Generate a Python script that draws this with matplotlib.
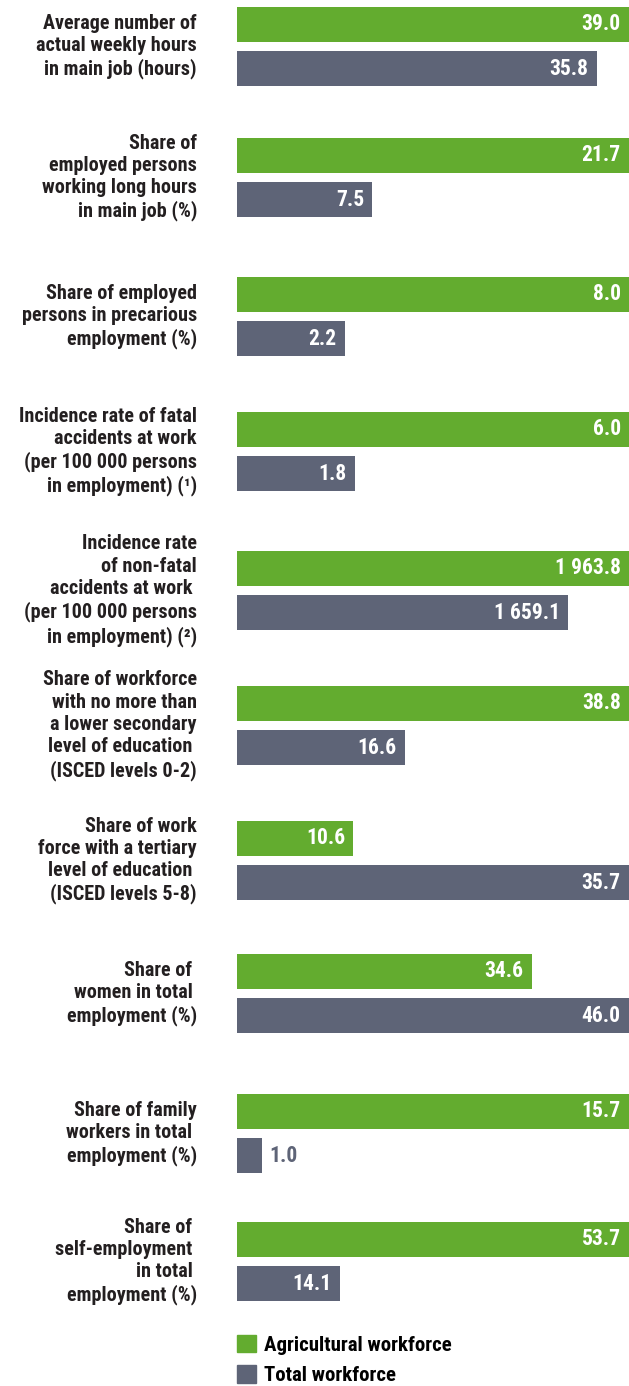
import matplotlib
matplotlib.use("Agg")
import matplotlib.pyplot as plt
from matplotlib import font_manager

# indicators, agricultural workforce vs total workforce
labels = [
    "Average number of\nactual weekly hours\nin main job (hours)",
    "Share of\nemployed persons\nworking long hours\nin main job (%)",
    "Share of employed\npersons in precarious\nemployment (%)",
    "Incidence rate of fatal\naccidents at work\n(per 100 000 persons\nin employment) (\u00b9)",
    "Incidence rate\nof non-fatal\naccidents at work \n(per 100 000 persons\nin employment) (\u00b2)",
    "Share of workforce\nwith no more than\na lower secondary\nlevel of education \n(ISCED levels 0-2)",
    "Share of work\nforce with a tertiary\nlevel of education \n(ISCED levels 5-8)",
    "Share of \nwomen in total \nemployment (%)",
    "Share of family\nworkers in total \nemployment (%)",
    "Share of \nself-employment \nin total \nemployment (%)",
]
agri = [39.0, 21.7, 8.0, 6.0, 1963.8, 38.8, 10.6, 34.6, 15.7, 53.7]
total = [35.8, 7.5, 2.2, 1.8, 1659.1, 16.6, 35.7, 46.0, 1.0, 14.1]
series_names = ["Agricultural workforce", "Total workforce"]

GREEN = "#63ac2f"
GREY = "#5e6477"
TEXT = "#231f20"

# pick a condensed bold face if one is around
available = {f.name for f in font_manager.fontManager.ttflist}
family = "DejaVu Sans"
for cand in ["Liberation Sans Narrow", "Roboto Condensed", "Open Sans Condensed", "DejaVu Sans"]:
    if cand in available:
        family = cand
        break
plt.rcParams["font.family"] = [family, "DejaVu Sans"]
plt.rcParams["font.weight"] = "bold"


def fmt(v):
    # thousands separated by a space
    return f"{v:,.1f}".replace(",", " ")


W, H = 629, 1386
fig = plt.figure(figsize=(W / 100, H / 100), dpi=100)

# top pixel of each panel (green bar top)
panel_tops = [7, 138, 277, 412, 551, 686, 821, 954, 1094, 1222]
bar_h = 0.795
x0, x1 = 237, 629
panel_px = 79

for i, top in enumerate(panel_tops):
    ax = fig.add_axes([x0 / W, 1 - (top + panel_px) / H, (x1 - x0) / W, panel_px / H])
    vals = [agri[i], total[i]]
    vmax = max(vals)
    bars = ax.barh([0, 1], vals, height=bar_h, color=[GREEN, GREY])
    ax.set_xlim(0, vmax)
    ax.set_ylim(1 + bar_h / 2, -bar_h / 2)
    ax.axis("off")
    for b, v in zip(bars, vals):
        yc = b.get_y() + b.get_height() / 2
        if v / vmax < 0.12:
            ax.annotate(fmt(v), (v, yc), xytext=(5, 0), textcoords="offset points",
                        ha="left", va="center", color=GREY, fontsize=15.5, fontweight="bold")
        else:
            ax.annotate(fmt(v), (v, yc), xytext=(-6, 0), textcoords="offset points",
                        ha="right", va="center", color="white", fontsize=15.5, fontweight="bold")
    fig.text(197 / W, 1 - (top + panel_px / 2) / H, labels[i], ha="right", va="center",
             fontsize=14.5, fontweight="bold", color=TEXT, linespacing=1.22,
             multialignment="right")

# legend
handles = [plt.Rectangle((0, 0), 1, 1, color=GREEN), plt.Rectangle((0, 0), 1, 1, color=GREY)]
fig.legend(handles, series_names, loc="upper left", bbox_to_anchor=(237 / W, 1 - 1335 / H),
           frameon=False, handlelength=0.91, handleheight=0.91,
           handletextpad=0.38, labelspacing=0.5, borderpad=0, borderaxespad=0,
           prop={"weight": "bold", "size": 15})

fig.savefig("out.png", dpi=100)
